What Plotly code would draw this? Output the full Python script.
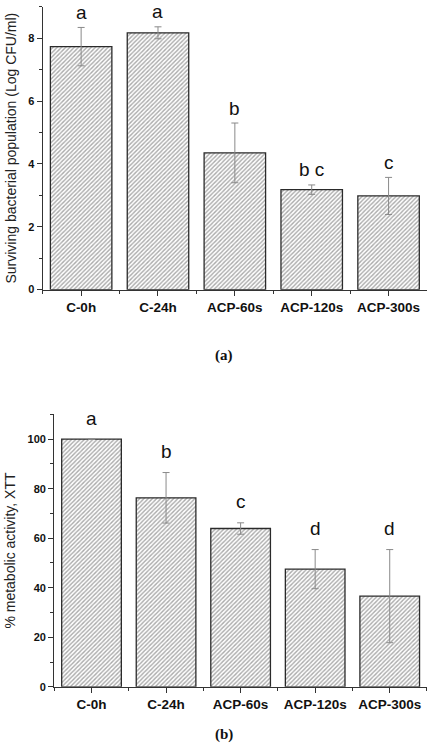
import plotly.graph_objects as go

# ---- data ----
categories = ["C-0h", "C-24h", "ACP-60s", "ACP-120s", "ACP-300s"]

survival_mean = [7.73, 8.17, 4.35, 3.18, 2.98]
survival_err = [0.61, 0.19, 0.95, 0.15, 0.59]
survival_letters = ["a", "a", "b", "b c", "c"]

xtt_mean = [100.0, 76.3, 63.9, 47.5, 36.6]
xtt_err = [0.0, 10.2, 2.3, 7.9, 18.8]
xtt_letters = ["a", "b", "c", "d", "d"]

xpos = list(range(len(categories)))

FONT = "Liberation Sans, Arial, sans-serif"
AXC = "#333333"

def bar_trace(vals, errs, xa, ya):
    return go.Bar(
        x=xpos, y=vals, xaxis=xa, yaxis=ya, width=0.8,
        marker=dict(
            color="white",
            line=dict(color="#2a2a2a", width=1.3),
            pattern=dict(shape="/", size=3, solidity=0.45,
                         fgcolor="#555555", bgcolor="white"),
        ),
        error_y=dict(type="data", array=errs, visible=True,
                     color="#8a8a8a", thickness=1, width=3.5),
        showlegend=False, hoverinfo="skip",
    )

fig = go.Figure()
fig.add_trace(bar_trace(survival_mean, survival_err, "x", "y"))
fig.add_trace(bar_trace(xtt_mean, xtt_err, "x2", "y2"))

xcommon = dict(
    range=[-0.5, 4.5], tickvals=xpos, ticktext=categories,
    showline=True, linecolor=AXC, linewidth=1.3,
    ticks="outside", ticklen=5, tickcolor=AXC, tickwidth=1.2,
    tickfont=dict(family=FONT, size=13.5, color="#111", weight="bold"),
    minor=dict(tick0=0.5, dtick=1, ticks="outside", ticklen=3,
               tickcolor=AXC, tickwidth=1),
    showgrid=False, zeroline=False, fixedrange=True,
)
ycommon = dict(
    showline=True, linecolor=AXC, linewidth=1.3,
    ticks="outside", ticklen=5, tickcolor=AXC, tickwidth=1.2,
    tickfont=dict(family=FONT, size=11, color="#111", weight="bold"),
    showgrid=False, zeroline=False, fixedrange=True,
)

fig.update_layout(
    width=427, height=750,
    margin=dict(l=0, r=0, t=0, b=0),
    paper_bgcolor="white", plot_bgcolor="white",
    bargap=0.2,
    xaxis=dict(domain=[0.1, 1.0], anchor="y", **xcommon),
    yaxis=dict(domain=[0.6107, 0.991], anchor="x", range=[0, 9],
               tickvals=[0, 2, 4, 6, 8],
               minor=dict(tick0=0, dtick=1, ticks="outside", ticklen=3,
                          tickcolor=AXC, tickwidth=1),
               title=dict(text="Surviving bacterial population (Log CFU/ml)",
                          font=dict(family=FONT, size=14, color="#222"),
                          standoff=8),
               **ycommon),
    xaxis2=dict(domain=[0.127, 1.0], anchor="y2", **xcommon),
    yaxis2=dict(domain=[0.0769, 0.4431], anchor="x2", range=[0, 110],
                tickvals=[0, 20, 40, 60, 80, 100],
                minor=dict(tick0=0, dtick=10, ticks="outside", ticklen=3,
                           tickcolor=AXC, tickwidth=1),
                title=dict(text="% metabolic activity, XTT",
                           font=dict(family=FONT, size=14, color="#222"),
                           standoff=8),
                **ycommon),
)

for i, lab in enumerate(survival_letters):
    fig.add_annotation(x=xpos[i], y=survival_mean[i] + survival_err[i],
                       xref="x", yref="y", text=lab, showarrow=False,
                       yanchor="middle", yshift=15,
                       font=dict(family=FONT, size=19, color="#111"))
for i, lab in enumerate(xtt_letters):
    fig.add_annotation(x=xpos[i], y=xtt_mean[i] + xtt_err[i],
                       xref="x2", yref="y2", text=lab, showarrow=False,
                       yanchor="middle", yshift=21,
                       font=dict(family=FONT, size=19, color="#111"))

fig.add_annotation(x=0.525, y=1 - 358 / 750, xref="paper", yref="paper",
                   text="<b>(a)</b>", showarrow=False, yanchor="middle",
                   font=dict(family="Liberation Serif, Times New Roman, serif",
                             size=15, color="#111"))
fig.add_annotation(x=0.525, y=1 - 740 / 750, xref="paper", yref="paper",
                   text="<b>(b)</b>", showarrow=False, yanchor="middle",
                   font=dict(family="Liberation Serif, Times New Roman, serif",
                             size=15, color="#111"))

fig.write_html("out.html")
